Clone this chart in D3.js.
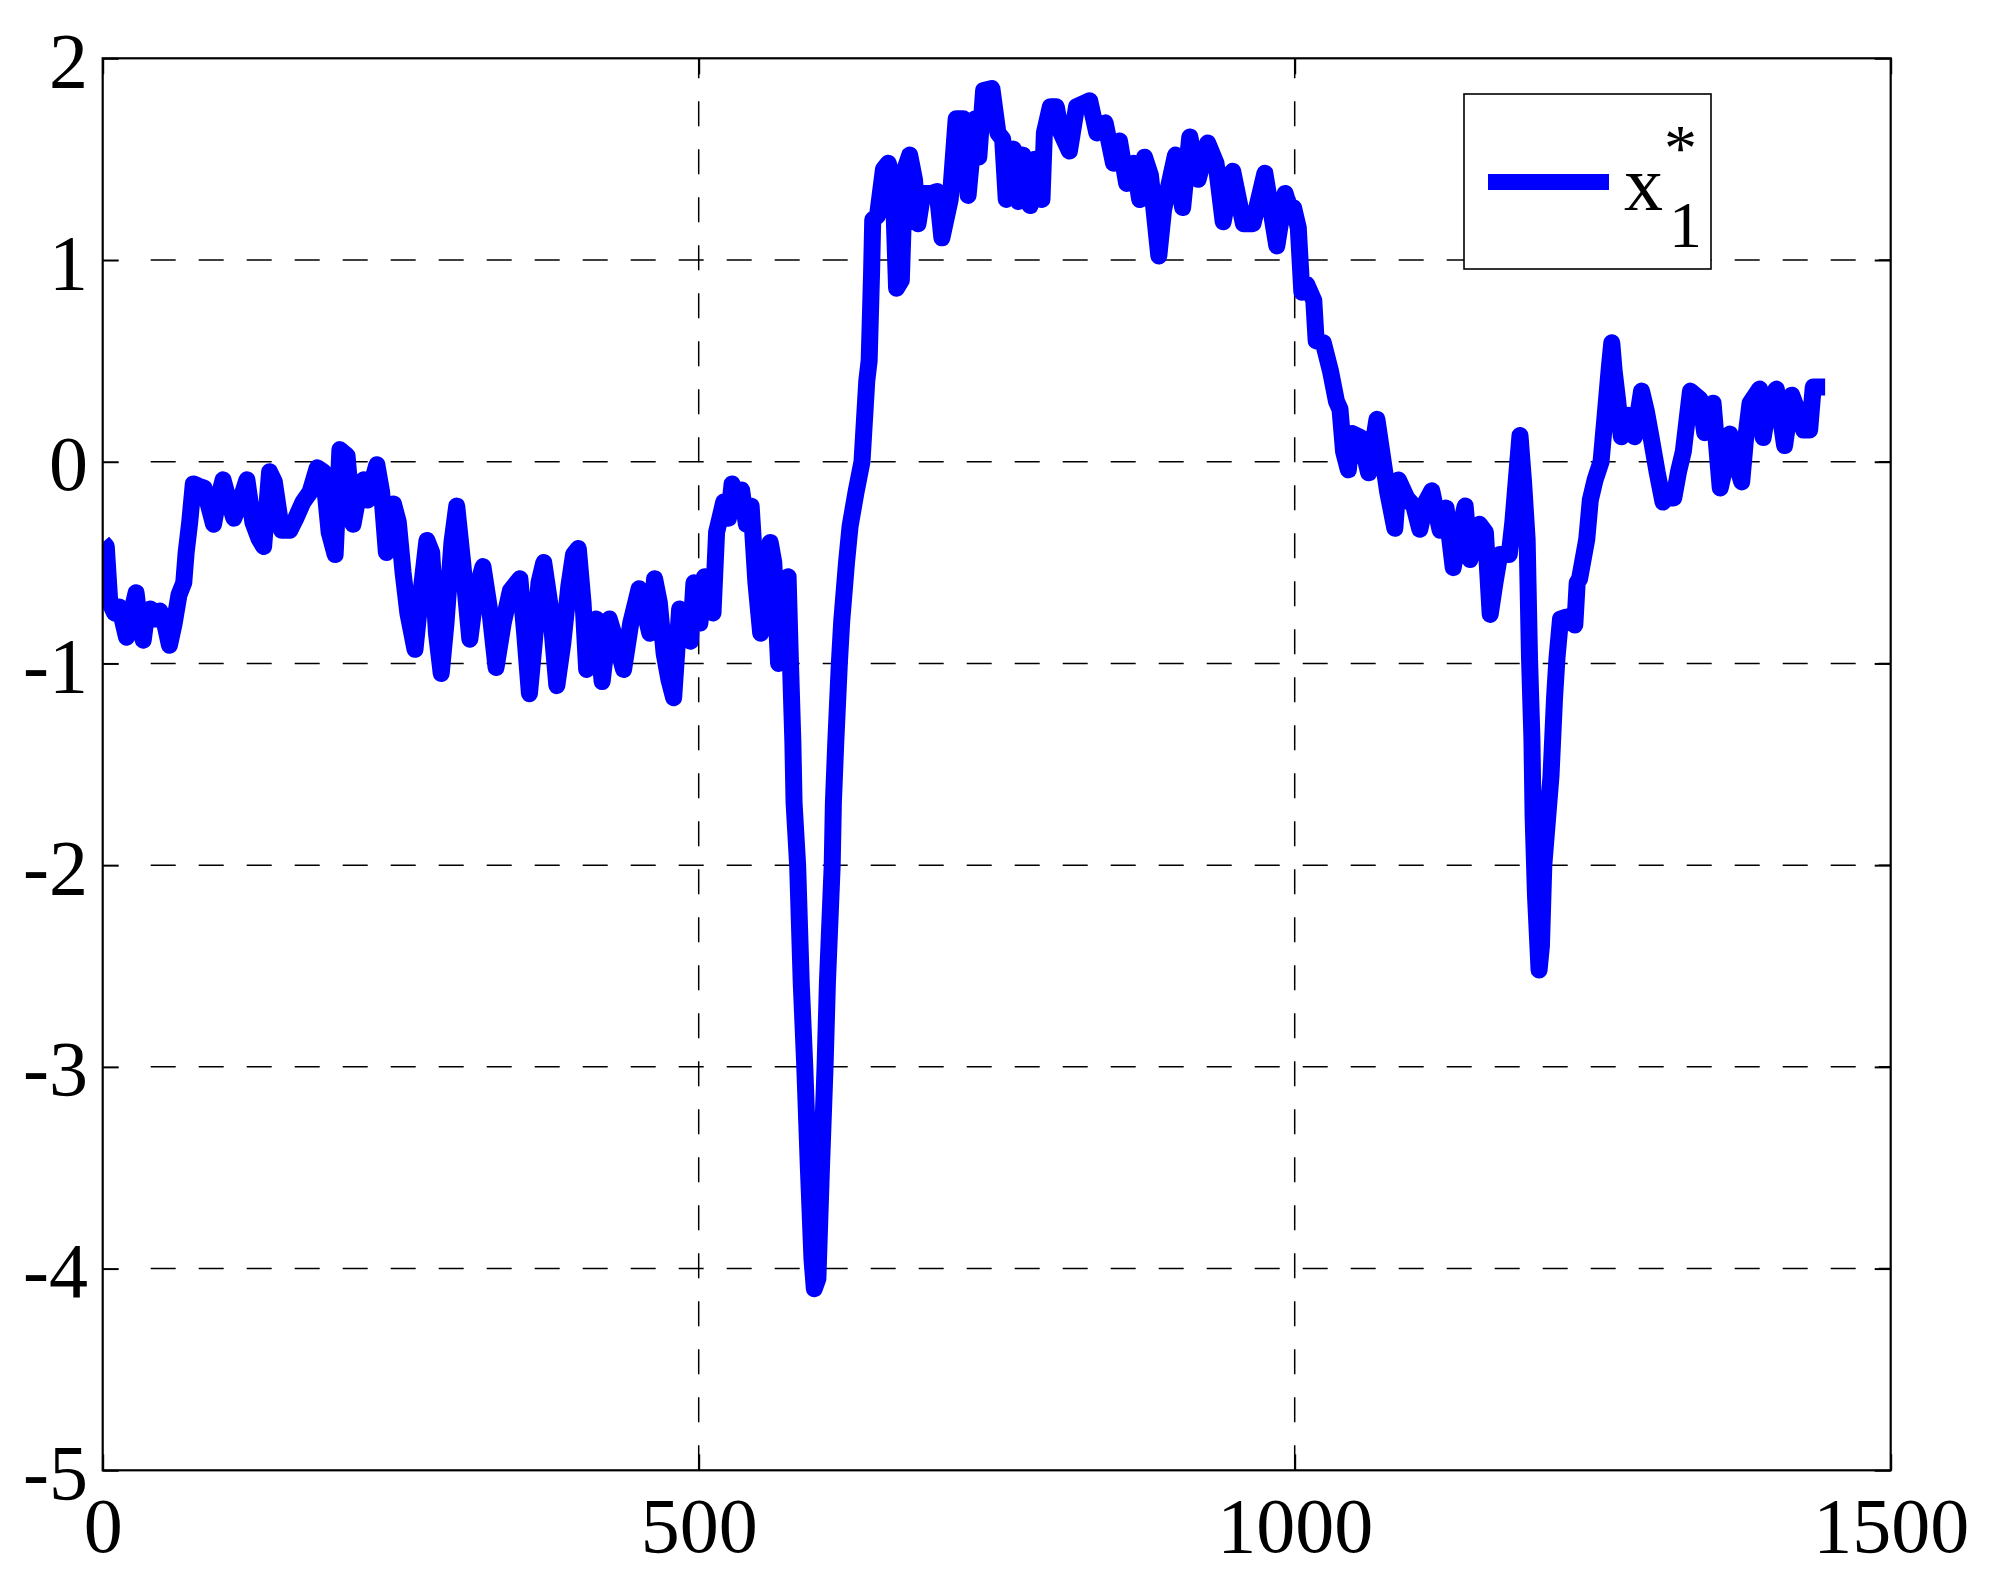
<!DOCTYPE html>
<html>
<head>
<meta charset="utf-8">
<script src="https://cdn.jsdelivr.net/npm/d3@7"></script>
<style>
  html, body { margin: 0; padding: 0; background: #fff; }
  svg { display: block; }
  text { font-family: "Liberation Serif", "Times New Roman", serif; fill: #000; }
</style>
</head>
<body>
<svg id="chart" width="1990" height="1584"></svg>
<script>
// ---- data ----
const xValues = [0,3,6,10,14,20,24,28,31,34,37,40,44,48,52,56,60,64,68,70,73,76,80,85,89,93,97,101,106,110,115,121,126,131,135,138,140,144,150,157,162,168,174,180,185,190,195,199,205,210,215,219,222,226,230,234,238,241,244,248,252,256,262,266,272,276,280,284,288,293,297,302,308,313,319,325,330,336,342,350,354,358,362,366,370,375,381,386,391,395,399,403,406,410,414,419,425,431,437,443,450,455,459,463,467,471,475,479,484,488,493,496,501,505,509,512,515,521,525,528,531,536,540,544,548,552,556,560,563,567,571,575,577,579,580,583,586,589,592,595,597,600,603,606,608,612,613,615,618,620,624,627,632,637,641,643,645,646,650,655,659,663,666,670,673,677,681,684,688,695,700,704,711,716,722,726,732,735,739,746,751,755,758,764,768,772,778,782,788,790,795,800,804,811,817,828,834,841,848,853,859,865,870,874,879,886,890,900,906,912,919,927,934,940,948,957,965,975,985,992,996,999,1003,1006,1010,1016,1018,1024,1030,1035,1038,1041,1045,1048,1055,1062,1069,1073,1078,1084,1087,1094,1100,1105,1110,1115,1122,1127,1133,1138,1143,1147,1155,1160,1164,1168,1172,1180,1183,1189,1192,1195,1197,1199,1200,1202,1205,1207,1209,1215,1218,1220,1223,1228,1235,1237,1239,1245,1248,1252,1257,1260,1264,1266,1268,1271,1274,1280,1285,1291,1295,1299,1304,1309,1313,1318,1322,1326,1332,1340,1344,1351,1357,1360,1365,1370,1375,1378,1382,1390,1393,1398,1404,1411,1417,1422,1427,1432,1435,1445];
const yValues = [-0.40,-0.42,-0.70,-0.75,-0.72,-0.87,-0.75,-0.65,-0.80,-0.885,-0.75,-0.73,-0.78,-0.74,-0.80,-0.91,-0.80,-0.66,-0.60,-0.45,-0.30,-0.11,-0.12,-0.13,-0.22,-0.31,-0.18,-0.09,-0.20,-0.28,-0.20,-0.09,-0.30,-0.38,-0.42,-0.20,-0.05,-0.10,-0.34,-0.34,-0.28,-0.20,-0.15,-0.03,-0.05,-0.35,-0.46,0.06,0.03,-0.31,-0.15,-0.09,-0.19,-0.10,-0.015,-0.15,-0.45,-0.30,-0.21,-0.30,-0.55,-0.75,-0.93,-0.70,-0.39,-0.45,-0.85,-1.05,-0.80,-0.40,-0.22,-0.50,-0.88,-0.65,-0.52,-0.75,-1.02,-0.80,-0.64,-0.58,-0.85,-1.15,-0.90,-0.60,-0.50,-0.70,-1.11,-0.90,-0.62,-0.46,-0.43,-0.70,-1.03,-0.90,-0.78,-1.09,-0.78,-0.90,-1.03,-0.80,-0.63,-0.75,-0.85,-0.58,-0.70,-0.95,-1.08,-1.17,-0.73,-0.78,-0.89,-0.60,-0.80,-0.57,-0.62,-0.75,-0.35,-0.20,-0.28,-0.11,-0.15,-0.14,-0.31,-0.22,-0.60,-0.85,-0.70,-0.40,-0.50,-1.00,-0.75,-0.57,-1.00,-1.39,-1.69,-2.00,-2.58,-3.00,-3.50,-3.95,-4.10,-4.05,-3.50,-3.00,-2.58,-2.00,-1.69,-1.39,-1.00,-0.79,-0.50,-0.32,-0.15,0.00,0.40,0.50,0.93,1.20,1.22,1.45,1.48,1.40,0.86,0.90,1.45,1.52,1.40,1.18,1.33,1.33,1.34,1.11,1.30,1.70,1.70,1.32,1.70,1.51,1.84,1.85,1.63,1.60,1.30,1.55,1.29,1.52,1.27,1.50,1.30,1.63,1.76,1.76,1.63,1.54,1.76,1.79,1.63,1.68,1.48,1.59,1.38,1.48,1.30,1.51,1.42,1.02,1.25,1.52,1.26,1.61,1.40,1.58,1.48,1.19,1.44,1.18,1.18,1.43,1.07,1.33,1.25,1.26,1.16,0.84,0.88,0.80,0.60,0.59,0.45,0.30,0.26,0.05,-0.04,0.14,0.12,-0.055,0.21,0.05,-0.15,-0.33,-0.09,-0.18,-0.22,-0.335,-0.20,-0.144,-0.34,-0.23,-0.525,-0.35,-0.22,-0.485,-0.31,-0.35,-0.757,-0.60,-0.46,-0.46,-0.30,0.13,-0.10,-0.385,-0.975,-1.37,-1.76,-2.15,-2.52,-2.40,-2.00,-1.56,-1.17,-0.975,-0.78,-0.77,-0.81,-0.60,-0.58,-0.385,-0.19,-0.09,0.00,0.20,0.47,0.59,0.45,0.30,0.124,0.23,0.124,0.35,0.25,0.12,-0.05,-0.20,-0.15,-0.18,-0.05,0.05,0.35,0.31,0.144,0.29,-0.13,-0.05,0.137,0.00,-0.10,0.10,0.29,0.36,0.12,0.30,0.36,0.08,0.33,0.25,0.157,0.157,0.37,0.37];
const xTicks = [0, 500, 1000, 1500];
const yTicks = [-5, -4, -3, -2, -1, 0, 1, 2];
const xDomain = [0, 1500];
const yDomain = [-5, 2];
const legendLabel = { base: "x", sub: "1", sup: "*" };

// ---- layout ----
const L = 102.7, R = 1890.7, T = 58.3, B = 1470.3;
const svg = d3.select("#chart");
svg.append("rect").attr("width", 1990).attr("height", 1584).attr("fill", "#fff");

const x = d3.scaleLinear().domain(xDomain).range([L, R]);
const y = d3.scaleLinear().domain(yDomain).range([B, T]);
const fmt = d => String(d);  // plain hyphen minus, as in the reference

// grid lines
const grid = svg.append("g").attr("stroke", "#000").attr("stroke-width", 1.5)
  .attr("stroke-dasharray", "25,23").attr("fill", "none");
xTicks.filter(v => v > xDomain[0] && v < xDomain[1]).forEach(v => {
  grid.append("path").attr("d", `M${x(v)},${B}L${x(v)},${T}`);
});
yTicks.filter(v => v > yDomain[0] && v < yDomain[1]).forEach(v => {
  grid.append("path").attr("d", `M${L + 48}, ${y(v)}L${R},${y(v)}`);
});

// data line
svg.append("clipPath").attr("id", "clip").append("rect")
  .attr("x", L).attr("y", T).attr("width", R - L).attr("height", B - T);
const pts = xValues.map((v, i) => [v, yValues[i]]);
const line = d3.line().x(d => x(d[0])).y(d => y(d[1]));
svg.append("path").datum(pts).attr("clip-path", "url(#clip)")
  .attr("d", line).attr("fill", "none").attr("stroke", "#0000ff")
  .attr("stroke-width", 17).attr("stroke-linejoin", "round").attr("stroke-linecap", "butt");

// axes
const fs = 78;
const ax = d3.axisBottom(x).tickValues(xTicks).tickFormat(fmt)
  .tickSizeInner(-16).tickSizeOuter(0).tickPadding(26.3);
const gx = svg.append("g").attr("transform", `translate(0,${B})`).call(ax);
const ay = d3.axisLeft(y).tickValues(yTicks).tickFormat(fmt)
  .tickSizeInner(-16).tickSizeOuter(0).tickPadding(14.7);
const gy = svg.append("g").attr("transform", `translate(${L},0)`).call(ay);
const axTop = d3.axisTop(x).tickValues(xTicks).tickFormat("").tickSizeInner(-16).tickSizeOuter(0);
const gxt = svg.append("g").attr("transform", `translate(0,${T})`).call(axTop);
const ayR = d3.axisRight(y).tickValues(yTicks).tickFormat("").tickSizeInner(-16).tickSizeOuter(0);
const gyr = svg.append("g").attr("transform", `translate(${R},0)`).call(ayR);
[gx, gy, gxt, gyr].forEach(g => {
  g.select(".domain").remove();
  g.selectAll(".tick line").attr("stroke", "#000").attr("stroke-width", 2);
  g.selectAll("text").style("font-family", '"Liberation Serif", "Times New Roman", serif')
    .style("font-size", fs + "px").attr("fill", "#000");
});
gy.selectAll("text").attr("dy", "0.36em");

// box
svg.append("rect").attr("x", L).attr("y", T).attr("width", R - L).attr("height", B - T)
  .attr("fill", "none").attr("stroke", "#000").attr("stroke-width", 2.2);

// legend
const lg = svg.append("g");
lg.append("rect").attr("x", 1464).attr("y", 94).attr("width", 247).attr("height", 175)
  .attr("fill", "#fff").attr("stroke", "#000").attr("stroke-width", 1.6);
lg.append("line").attr("x1", 1488).attr("x2", 1609).attr("y1", 182).attr("y2", 182)
  .attr("stroke", "#0000ff").attr("stroke-width", 16);
lg.append("text").attr("x", 1624).attr("y", 210).style("font-size", "78px").text(legendLabel.base);
lg.append("text").attr("x", 1669).attr("y", 247).style("font-size", "66px").text(legendLabel.sub);
lg.append("text").attr("x", 1664).attr("y", 170).style("font-size", "66px").text(legendLabel.sup);
</script>
</body>
</html>
